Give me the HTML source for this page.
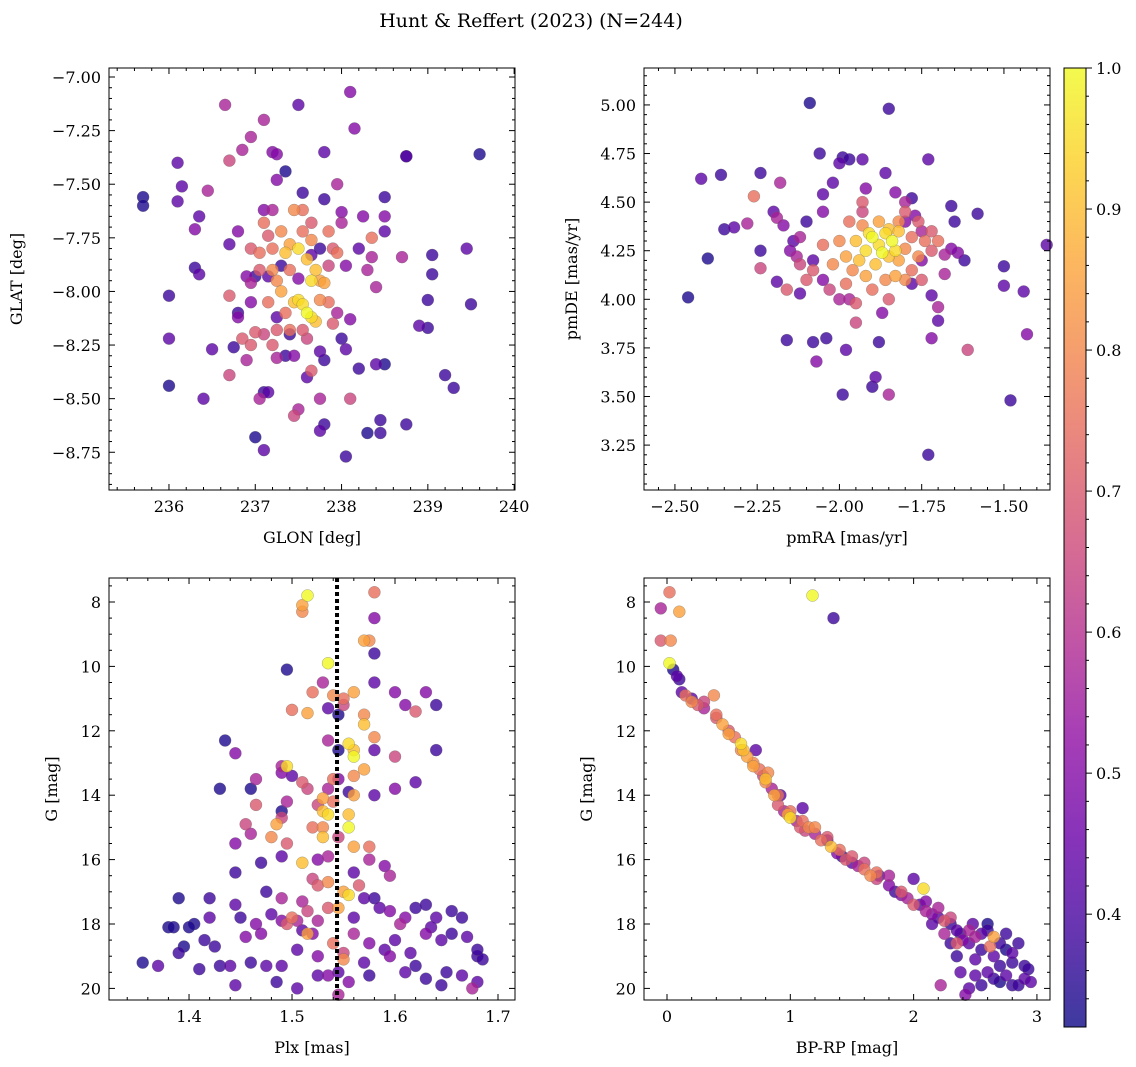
<!DOCTYPE html>
<html><head><meta charset="utf-8"><style>
html,body{margin:0;padding:0;background:#fff;}
svg{display:block;font-family:"DejaVu Serif","Liberation Serif",serif;}
</style></head><body>
<svg id="fig" width="1136" height="1067" viewBox="0 0 1136 1067" xmlns="http://www.w3.org/2000/svg">
<defs><linearGradient id="cbgrad" x1="0" y1="1" x2="0" y2="0"></linearGradient></defs>
<text x="531" y="27" font-size="19" text-anchor="middle">Hunt &amp; Reffert (2023) (N=244)</text>
</svg>
<script>
// ---------- Panel 1: GLON / GLAT ----------
const p1_glon=[235.7,235.7,236.0,236.0,236.0,236.1,236.1,236.15,236.3,236.35,236.3,236.35,236.4,236.45,236.5,236.65,236.7,236.7,236.8,236.75,236.85,236.95,237.1,237.2,237.25,237.35,237.5,237.8,238.1,238.15,238.75,238.75,239.6,238.5,238.5,238.7,239.05,239.05,239.45,239.5,239.0,238.9,239.0,239.2,239.3,238.45,238.45,238.3,238.75,238.05,237.0,237.1,237.5,237.45,237.75,237.75,237.8,238.1,237.05,237.1,237.15,236.9,236.85,236.95,237.0,237.25,237.35,237.6,237.65,237.75,237.8,238.2,238.4,238.5,238.05,238.1,238.4,238.3,238.35,238.2,238.35,238.5,238.0,238.0,238.25,237.95,237.8,237.55,237.1,237.2,237.25,236.8,236.7,236.9,236.95,236.7,236.8,236.95,
237.1,237.15,237.2,237.3,237.4,237.35,237.5,237.6,237.45,237.55,237.65,237.85,237.9,237.95,237.25,237.3,237.4,237.5,237.55,237.45,237.6,237.65,237.7,237.75,237.65,237.7,237.8,237.75,237.85,237.9,237.4,237.55,237.6,237.25,237.15,237.05,237.05,236.95,237.2,237.55,237.65,237.35,237.95,237.85,237.1,237.2,237.15,237.3,237.5,237.65,237.75,237.0,237.25,237.4,238.05,238.0,237.45];
const p1_glat=[-7.56,-7.60,-8.02,-8.22,-8.44,-7.40,-7.58,-7.51,-7.71,-7.65,-7.89,-7.92,-8.50,-7.53,-8.27,-7.13,-7.39,-8.39,-8.10,-8.26,-7.34,-7.28,-7.20,-7.35,-7.36,-7.44,-7.13,-7.35,-7.07,-7.24,-7.37,-7.37,-7.36,-7.56,-7.65,-7.84,-7.83,-7.92,-7.80,-8.06,-8.04,-8.16,-8.17,-8.39,-8.45,-8.60,-8.66,-8.66,-8.62,-8.77,-8.68,-8.74,-8.55,-8.58,-8.50,-8.65,-8.62,-8.50,-8.50,-8.47,-8.47,-8.32,-8.22,-8.25,-8.19,-8.31,-8.30,-8.40,-8.37,-8.28,-8.32,-8.36,-8.34,-8.34,-8.27,-8.13,-7.98,-7.90,-7.84,-7.80,-7.75,-7.72,-7.63,-7.68,-7.65,-7.50,-7.57,-7.54,-7.62,-7.62,-7.48,-7.72,-7.78,-7.93,-7.96,-8.02,-8.12,-8.05,
-7.68,-7.74,-7.80,-7.72,-7.78,-7.82,-7.80,-7.85,-7.62,-7.62,-7.68,-7.72,-7.80,-7.82,-7.95,-8.00,-7.90,-8.04,-8.06,-8.05,-8.10,-8.12,-8.14,-7.95,-7.95,-7.90,-7.96,-8.04,-8.05,-8.15,-8.18,-8.18,-8.22,-8.18,-8.05,-7.90,-7.82,-7.80,-7.90,-7.72,-7.76,-8.10,-8.10,-7.88,-8.20,-8.25,-7.93,-7.88,-7.94,-7.83,-7.80,-7.93,-8.12,-8.20,-7.88,-8.22,-8.30];
const p1_prob=[0.34,0.34,0.38,0.43,0.34,0.43,0.43,0.43,0.5,0.43,0.38,0.43,0.43,0.57,0.43,0.57,0.65,0.65,0.38,0.38,0.57,0.57,0.57,0.5,0.5,0.34,0.43,0.43,0.5,0.5,0.43,0.34,0.34,0.38,0.5,0.57,0.38,0.38,0.43,0.38,0.38,0.43,0.38,0.38,0.38,0.38,0.38,0.34,0.38,0.38,0.34,0.43,0.57,0.65,0.57,0.43,0.38,0.65,0.57,0.38,0.43,0.57,0.7,0.7,0.7,0.57,0.38,0.43,0.7,0.43,0.38,0.38,0.43,0.34,0.43,0.5,0.57,0.57,0.57,0.43,0.75,0.43,0.5,0.57,0.5,0.57,0.38,0.38,0.5,0.57,0.5,0.5,0.43,0.5,0.57,0.7,0.5,0.5,
0.75,0.7,0.75,0.8,0.85,0.9,0.95,0.9,0.8,0.75,0.7,0.75,0.7,0.75,0.8,0.85,0.75,0.95,0.95,0.9,1.0,0.95,0.9,0.85,0.95,0.9,0.85,0.8,0.75,0.7,0.75,0.7,0.65,0.7,0.75,0.7,0.75,0.7,0.8,0.75,0.8,0.75,0.57,0.65,0.65,0.7,0.43,0.38,0.5,0.43,0.38,0.38,0.43,0.38,0.5,0.38,0.5];

// ---------- Panel 2: pmRA / pmDE ----------
const p2_pmra=[-2.46,-2.42,-2.40,-2.36,-2.35,-2.32,-2.28,-2.26,-2.24,-2.24,-2.24,-2.20,-2.18,-2.19,-2.17,-2.19,-2.16,-2.16,-2.14,-2.12,-2.13,-2.12,-2.10,-2.09,-2.08,-2.07,-2.06,-2.05,-2.05,-2.04,-2.02,-2.00,-1.99,-1.97,-1.98,-1.99,-1.93,-1.92,-1.90,-1.89,-1.88,-1.87,-1.86,-1.85,-1.85,-1.83,-1.80,-1.78,-1.77,-1.73,-1.72,-1.73,-1.72,-1.70,-1.68,-1.66,-1.65,-1.64,-1.62,-1.61,-1.58,-1.50,-1.50,-1.48,-1.44,-1.43,-1.37,-1.66,-1.70,-1.75,-1.80,-2.08,-2.05,-2.00,-1.95,-1.93,-1.78,-1.75,-1.68,
-2.02,-1.98,-1.95,-1.92,-1.90,-1.88,-1.86,-1.84,-1.85,-1.82,-1.80,-1.78,-1.76,-1.74,-1.72,-1.96,-1.92,-1.90,-1.86,-1.83,-1.80,-2.05,-2.08,-2.10,-1.97,-1.93,-1.88,-1.85,-1.82,-1.78,-1.76,-1.98,-2.00,-1.94,-1.89,-1.83,-1.87,-1.91,-1.82,-2.12,-2.03,-1.95,-1.85,-1.75,-1.72,-1.70,-1.93,-1.80,-2.15,-1.97];
const p2_pmde=[4.01,4.62,4.21,4.64,4.36,4.37,4.39,4.53,4.65,4.25,4.16,4.45,4.60,4.42,4.38,4.09,4.05,3.79,4.30,4.32,4.22,4.03,4.40,5.01,3.78,3.68,4.75,4.54,4.45,3.80,4.60,4.70,4.73,4.72,3.74,3.51,4.72,4.57,3.55,3.60,3.78,3.93,4.65,4.98,3.51,4.55,4.50,4.52,4.43,4.72,3.80,3.20,4.02,3.89,4.13,4.48,4.40,4.24,4.20,3.74,4.44,4.17,4.07,3.48,4.04,3.82,4.28,4.26,3.96,4.20,4.40,4.20,4.10,4.00,3.88,4.45,4.08,4.35,4.23,
4.18,4.22,4.30,4.25,4.32,4.28,4.34,4.30,4.22,4.20,4.26,4.15,4.22,4.30,4.35,4.15,4.12,4.05,4.10,4.12,4.10,4.28,4.15,4.10,4.40,4.38,4.40,4.36,4.40,4.32,4.40,4.08,4.30,4.20,4.18,4.25,4.24,4.34,4.35,4.18,4.05,3.98,4.00,4.10,4.25,4.30,4.50,4.45,4.25,4.00];
const p2_prob=[0.34,0.43,0.34,0.38,0.38,0.43,0.57,0.75,0.38,0.38,0.65,0.43,0.57,0.57,0.5,0.43,0.7,0.38,0.43,0.57,0.57,0.43,0.38,0.34,0.38,0.5,0.38,0.43,0.5,0.38,0.43,0.43,0.38,0.38,0.43,0.38,0.43,0.5,0.38,0.43,0.38,0.5,0.43,0.38,0.57,0.5,0.57,0.38,0.5,0.43,0.5,0.38,0.43,0.43,0.57,0.38,0.38,0.5,0.38,0.65,0.38,0.38,0.43,0.38,0.43,0.5,0.43,0.5,0.57,0.5,0.5,0.43,0.5,0.57,0.65,0.65,0.43,0.57,0.57,
0.8,0.85,0.9,0.95,1.0,0.95,0.95,1.0,0.9,0.85,0.8,0.75,0.8,0.75,0.7,0.8,0.85,0.75,0.8,0.85,0.8,0.75,0.7,0.7,0.75,0.8,0.85,0.9,0.8,0.75,0.7,0.75,0.8,0.9,0.9,0.95,1.0,0.95,0.9,0.65,0.65,0.7,0.7,0.7,0.7,0.75,0.7,0.7,0.5,0.57];

// ---------- Panel 3: Plx / G ----------
const p3_plx=[1.515,1.51,1.51,1.58,1.58,1.57,1.575,1.535,1.58,1.495,1.58,1.53,1.52,1.56,1.54,1.55,1.55,1.50,1.515,1.535,1.545,1.57,1.57,1.61,1.60,1.63,1.62,1.64,1.435,1.445,1.535,1.555,1.56,1.56,1.545,1.58,1.58,1.60,1.64,1.49,1.495,1.49,1.465,1.43,1.50,1.51,1.515,1.54,1.545,1.535,1.56,1.57,1.555,1.60,1.62,1.58,1.46,1.465,1.49,1.495,1.525,1.53,1.53,1.535,1.54,1.555,1.56,1.52,1.53,1.53,1.555,1.545,1.49,1.485,1.48,1.495,1.46,1.445,1.455,1.49,1.47,1.51,1.525,1.535,1.56,1.575,1.575,1.59,1.595,1.56,1.565,1.55,1.555,1.52,1.525,1.535,1.51,1.49,1.475,1.445,1.42,1.39,1.405,1.38,1.385,1.42,1.445,1.45,1.465,1.47,1.48,1.49,1.495,1.505,1.51,1.515,1.525,1.535,1.545,1.56,1.57,1.58,1.585,1.595,1.605,1.61,1.62,1.63,1.64,1.635,1.655,1.665,1.67,1.68,1.685,1.68,1.655,1.645,1.65,1.645,1.665,1.675,1.68,1.63,1.615,1.62,1.60,1.595,1.575,1.57,1.575,1.555,1.545,1.535,1.525,1.52,1.505,1.49,1.485,1.475,1.46,1.445,1.43,1.425,1.41,1.395,1.39,1.37,1.355,1.44,1.455,1.50,1.515,1.54,1.55,1.55,1.56,1.59,1.61,1.63,1.415,1.40,1.525,1.505,1.545];
const p3_g=[7.8,8.1,8.3,7.7,8.5,9.2,9.2,9.9,9.6,10.1,10.5,10.5,10.8,10.8,10.9,11.0,11.2,11.35,11.45,11.3,11.5,11.8,11.5,11.2,10.8,10.8,11.4,11.2,12.3,12.7,12.3,12.4,12.6,12.8,12.6,12.2,12.6,12.8,12.6,13.1,13.1,13.3,13.5,13.8,13.4,13.6,13.8,13.5,13.5,13.8,13.4,13.2,13.9,13.8,13.6,14.0,13.8,14.3,14.5,14.2,14.3,14.1,14.5,14.6,14.2,14.6,14.0,15.0,15.0,15.3,15.0,15.3,14.7,14.9,15.3,15.5,15.2,15.5,14.9,15.9,16.1,16.1,16.0,15.9,15.6,15.6,16.0,16.2,16.5,16.4,16.8,17.0,17.1,16.6,16.8,16.7,17.3,17.2,17.0,16.4,17.2,17.2,18.0,18.1,18.1,17.8,17.4,17.8,18.0,18.3,17.7,17.9,18.0,17.9,18.2,18.3,17.9,17.5,17.5,17.8,17.2,17.2,17.5,17.6,18.0,17.8,17.5,17.4,17.8,18.1,17.6,17.8,18.4,19.0,19.1,18.8,18.3,18.5,19.5,19.9,19.6,20.0,19.8,18.3,18.9,19.3,18.5,19.0,18.6,19.2,19.6,19.8,20.2,19.6,19.0,18.3,18.8,19.3,19.8,19.3,19.2,19.9,19.3,18.7,19.4,18.7,18.9,19.3,19.2,19.3,18.4,17.8,17.6,18.6,18.9,19.1,18.3,18.8,19.5,19.7,18.5,18.1,19.6,20.0,19.5];
const p3_prob=[1.0,0.85,0.8,0.75,0.5,0.85,0.8,1.0,0.38,0.34,0.43,0.57,0.75,0.85,0.8,0.75,0.65,0.75,0.85,0.43,0.34,0.9,0.8,0.5,0.5,0.5,0.7,0.38,0.34,0.5,0.57,0.95,0.9,1.0,0.34,0.8,0.43,0.65,0.38,0.57,0.95,0.5,0.57,0.34,0.43,0.7,0.65,0.75,0.5,0.57,0.8,0.85,0.38,0.5,0.43,0.43,0.34,0.7,0.34,0.57,0.65,0.85,0.9,0.95,0.75,0.9,0.85,0.75,0.8,0.9,1.0,0.65,0.65,0.85,0.8,0.7,0.57,0.5,0.65,0.43,0.38,0.9,0.5,0.57,0.85,0.75,0.57,0.5,0.57,0.43,0.7,0.85,0.95,0.65,0.7,0.8,0.57,0.57,0.38,0.38,0.38,0.34,0.34,0.34,0.34,0.43,0.43,0.38,0.5,0.5,0.43,0.5,0.7,0.57,0.43,0.85,0.57,0.7,0.85,0.43,0.43,0.38,0.43,0.5,0.57,0.5,0.38,0.38,0.43,0.43,0.38,0.38,0.43,0.38,0.38,0.38,0.38,0.43,0.38,0.38,0.43,0.57,0.43,0.5,0.43,0.38,0.43,0.5,0.5,0.43,0.38,0.5,0.57,0.5,0.5,0.5,0.43,0.43,0.38,0.43,0.38,0.43,0.38,0.38,0.38,0.34,0.38,0.43,0.34,0.43,0.5,0.75,0.65,0.75,0.65,0.8,0.57,0.43,0.43,0.38,0.38,0.34,0.43,0.43,0.43];

// ---------- Panel 4: BP-RP / G ----------
const p4_bprp=[-0.05,-0.05,0.02,0.03,0.1,1.18,1.35,0.02,0.05,0.1,0.12,0.15,0.2,0.25,0.3,0.38,0.4,0.45,0.5,0.55,0.6,0.62,0.65,0.7,0.72,0.75,0.78,0.8,0.82,0.85,0.87,0.9,0.92,0.95,0.98,1.0,1.05,1.08,1.1,1.12,1.15,1.2,1.25,1.3,1.33,1.38,1.42,1.45,1.5,1.55,1.6,1.65,1.7,1.72,1.8,1.85,1.9,1.95,2.0,2.05,2.08,2.1,2.15,2.2,2.25,2.3,2.35,2.38,2.4,2.45,2.5,2.55,2.6,2.62,2.65,2.65,2.7,2.75,2.8,2.85,2.9,2.93,2.9,2.8,2.75,2.7,2.6,2.55,2.5,2.45,2.42,2.38,2.35,2.3,2.22,2.5,2.6,2.55,2.48,2.45,2.3,2.2,2.1,2.0,1.9,1.8,1.7,1.6,1.5,1.4,1.3,1.2,1.1,1.0,0.9,0.8,0.7,0.6,0.5,0.4,0.3,0.2,0.08,2.7,2.85,2.95,2.65,2.35,2.25,2.15,2.75,2.8];
const p4_g=[8.2,9.2,7.7,9.2,8.3,7.8,8.5,9.9,10.1,10.4,10.8,10.9,11.1,11.2,11.3,10.9,11.5,11.8,12.0,12.2,12.4,12.6,12.8,13.0,12.6,13.2,13.4,13.5,13.3,13.8,14.0,14.3,14.0,14.5,14.6,14.7,14.8,15.0,14.4,15.1,15.0,15.2,15.4,15.4,15.6,15.8,15.9,16.0,16.1,16.2,16.3,16.5,16.6,16.5,16.8,17.0,17.1,17.2,16.6,17.4,16.9,17.6,17.7,17.8,17.9,18.0,18.2,18.3,18.5,18.6,18.4,18.8,18.2,18.7,18.4,19.0,18.6,18.8,19.2,18.6,19.3,19.4,19.7,19.9,19.6,19.3,19.5,19.9,19.6,20.0,20.2,19.5,19.0,18.6,19.9,19.1,18.0,18.3,18.0,18.2,17.8,17.5,17.3,17.4,17.0,16.5,16.4,16.1,15.9,15.7,15.3,15.0,14.8,14.5,14.0,13.6,13.1,12.6,12.1,11.6,11.1,11.0,10.3,19.8,19.9,19.8,19.7,18.6,18.3,18.0,18.3,18.9];
const p4_prob=[0.57,0.7,0.75,0.8,0.85,1.0,0.38,1.0,0.34,0.38,0.43,0.75,0.8,0.7,0.57,0.8,0.75,0.85,0.7,0.75,0.95,0.9,0.85,0.8,0.43,0.75,0.65,0.9,0.8,0.57,0.85,0.7,0.43,0.57,0.85,0.95,0.57,0.7,0.43,0.65,0.8,0.57,0.75,0.43,0.9,0.5,0.38,0.7,0.43,0.57,0.75,0.8,0.65,0.43,0.5,0.38,0.5,0.57,0.43,0.43,0.95,0.57,0.5,0.43,0.7,0.38,0.43,0.38,0.5,0.43,0.57,0.38,0.38,0.75,0.85,0.43,0.38,0.34,0.38,0.38,0.38,0.38,0.43,0.38,0.43,0.38,0.43,0.38,0.43,0.43,0.5,0.43,0.38,0.38,0.57,0.43,0.34,0.43,0.43,0.57,0.65,0.57,0.5,0.7,0.7,0.57,0.75,0.65,0.7,0.75,0.7,0.8,0.75,0.75,0.75,0.8,0.85,0.8,0.85,0.7,0.65,0.43,0.43,0.34,0.38,0.43,0.38,0.7,0.57,0.43,0.38,0.43];

const cbTicks=[0.4,0.5,0.6,0.7,0.8,0.9,1.0];
const VMIN=0.32, VMAX=1.0;

const NS="http://www.w3.org/2000/svg";
const svg=document.getElementById('fig');
function mk(tag,attrs,parent){const e=document.createElementNS(NS,tag);for(const k in attrs)e.setAttribute(k,attrs[k]);(parent||svg).appendChild(e);return e;}

const plasma=[[13,8,135],[65,4,157],[106,0,168],[143,13,164],[177,42,144],[204,71,120],[225,100,98],[242,132,75],[252,166,54],[252,206,37],[240,249,33]];
function cmap(v){let t=(v-VMIN)/(VMAX-VMIN);t=Math.max(0,Math.min(1,t))*10;const i=Math.min(9,Math.floor(t)),f=t-i;const a=plasma[i],b=plasma[i+1];return `rgb(${Math.round(a[0]+(b[0]-a[0])*f)},${Math.round(a[1]+(b[1]-a[1])*f)},${Math.round(a[2]+(b[2]-a[2])*f)})`;}
function fmt(v,d){const s=Math.abs(v).toFixed(d);return (v<-1e-9?'\u2212':'')+s;}

function panel(cfg){
  const g=mk('g',{});
  
  
  const sx=v=>cfg.x0+(v-cfg.xmin)/(cfg.xmax-cfg.xmin)*(cfg.x1-cfg.x0);
  const sy=v=>cfg.y0+(v-cfg.ymin)/(cfg.ymax-cfg.ymin)*(cfg.y1-cfg.y0);
  const idx=cfg.xs.map((_,i)=>i).sort((a,b)=>cfg.cs[a]-cfg.cs[b]);
  const pg=mk('g',{},g);
  
  
  for(const i of idx){
    const c=mk('circle',{cx:sx(cfg.xs[i]).toFixed(1),cy:sy(cfg.ys[i]).toFixed(1),r:6,fill:cmap(cfg.cs[i]),'fill-opacity':0.8,stroke:'#666','stroke-width':0.4,'stroke-opacity':0.7},pg);
    
    
  }
  if(cfg.vline!==undefined){
    const l=mk('line',{x1:sx(cfg.vline),x2:sx(cfg.vline),y1:cfg.y0,y2:cfg.y1,stroke:'#000','stroke-width':4,'stroke-dasharray':'4,3'},g);
    
    
  }
  const fr=mk('rect',{x:cfg.x0,y:cfg.y0,width:cfg.x1-cfg.x0,height:cfg.y1-cfg.y0,fill:'none',stroke:'#000','stroke-width':1},g);
  
  
  const lo=Math.min(cfg.xmin,cfg.xmax),hi=Math.max(cfg.xmin,cfg.xmax);
  for(let k=Math.ceil(lo/cfg.xminor-1e-6);k*cfg.xminor<=hi+1e-9;k++){
    const v=k*cfg.xminor,X=sx(v);
    const major=Math.abs(v/cfg.xmajor-Math.round(v/cfg.xmajor))<1e-6;
    const L=major?6:3;
    mk('line',{x1:X,x2:X,y1:cfg.y1,y2:cfg.y1-L,stroke:'#000','stroke-width':1},g);
    mk('line',{x1:X,x2:X,y1:cfg.y0,y2:cfg.y0+L,stroke:'#000','stroke-width':1},g);
    if(major){const t=mk('text',{x:X,y:cfg.y1+22,'font-size':16,'text-anchor':'middle'},g);t.textContent=fmt(v,cfg.xd);
      
      }
  }
  const ylo=Math.min(cfg.ymin,cfg.ymax),yhi=Math.max(cfg.ymin,cfg.ymax);
  for(let k=Math.ceil(ylo/cfg.yminor-1e-6);k*cfg.yminor<=yhi+1e-9;k++){
    const v=k*cfg.yminor,Y=sy(v);
    const major=Math.abs(v/cfg.ymajor-Math.round(v/cfg.ymajor))<1e-6;
    const L=major?6:3;
    mk('line',{x1:cfg.x0,x2:cfg.x0+L,y1:Y,y2:Y,stroke:'#000','stroke-width':1},g);
    mk('line',{x1:cfg.x1,x2:cfg.x1-L,y1:Y,y2:Y,stroke:'#000','stroke-width':1},g);
    if(major){const t=mk('text',{x:cfg.x0-8,y:Y+6,'font-size':16,'text-anchor':'end'},g);t.textContent=fmt(v,cfg.yd);
      
      }
  }
  const xl=mk('text',{x:(cfg.x0+cfg.x1)/2,y:cfg.y1+53,'font-size':16,'text-anchor':'middle'},g);xl.textContent=cfg.xlabel;
  
  
  const yx=cfg.ylx,yy=(cfg.y0+cfg.y1)/2;
  const yl=mk('text',{x:yx,y:yy,'font-size':16,'text-anchor':'middle',transform:`rotate(-90 ${yx} ${yy})`},g);yl.textContent=cfg.ylabel;
  
  
}

panel({name:'panel-sky-position',x0:109,x1:515,y0:68,y1:490,xmin:235.305,xmax:240.01,ymin:-6.958,ymax:-8.926,xs:p1_glon,ys:p1_glat,cs:p1_prob,xmajor:1,xminor:0.2,ymajor:0.25,yminor:0.05,xd:0,yd:2,xlabel:'GLON [deg]',ylabel:'GLAT [deg]',ylx:22});
panel({name:'panel-proper-motion',x0:644,x1:1050,y0:68,y1:490,xmin:-2.594,xmax:-1.360,ymin:5.190,ymax:3.019,xs:p2_pmra,ys:p2_pmde,cs:p2_prob,xmajor:0.25,xminor:0.05,ymajor:0.25,yminor:0.05,xd:2,yd:2,xlabel:'pmRA [mas/yr]',ylabel:'pmDE [mas/yr]',ylx:577});
panel({name:'panel-parallax-mag',x0:109,x1:515,y0:578,y1:1000,xmin:1.3223,xmax:1.7165,ymin:7.255,ymax:20.36,xs:p3_plx,ys:p3_g,cs:p3_prob,xmajor:0.1,xminor:0.02,ymajor:2,yminor:0.5,xd:1,yd:0,xlabel:'Plx [mas]',ylabel:'G [mag]',ylx:57,vline:1.5437});
panel({name:'panel-cmd',x0:644,x1:1050,y0:578,y1:1000,xmin:-0.1865,xmax:3.106,ymin:7.255,ymax:20.36,xs:p4_bprp,ys:p4_g,cs:p4_prob,xmajor:1,xminor:0.2,ymajor:2,yminor:0.5,xd:0,yd:0,xlabel:'BP-RP [mag]',ylabel:'G [mag]',ylx:592});

// colorbar
const cb=mk('g',{});


const grad=document.getElementById('cbgrad');
for(let i=0;i<=20;i++){const v=VMIN+(VMAX-VMIN)*i/20;mk('stop',{offset:(i/20),'stop-color':cmap(v),'stop-opacity':0.8},grad);}
const cbx0=1064,cbx1=1086,cby0=68,cby1=1027;
mk('rect',{x:cbx0,y:cby0,width:cbx1-cbx0,height:cby1-cby0,fill:'url(#cbgrad)',stroke:'#000','stroke-width':1},cb);
const cy=v=>cby1-(v-VMIN)/(VMAX-VMIN)*(cby1-cby0);
for(let k=17;k<=50;k++){const v=k*0.02;if(v<VMIN)continue;const Y=cy(v);
  const major=k%5===0;mk('line',{x1:cbx1,x2:cbx1+(major?6:3),y1:Y,y2:Y,stroke:'#000','stroke-width':1},cb);}
for(const v of cbTicks){const t=mk('text',{x:cbx1+10,y:cy(v)+6,'font-size':16},cb);t.textContent=v.toFixed(1);
  
  }
</script>
</body></html>
